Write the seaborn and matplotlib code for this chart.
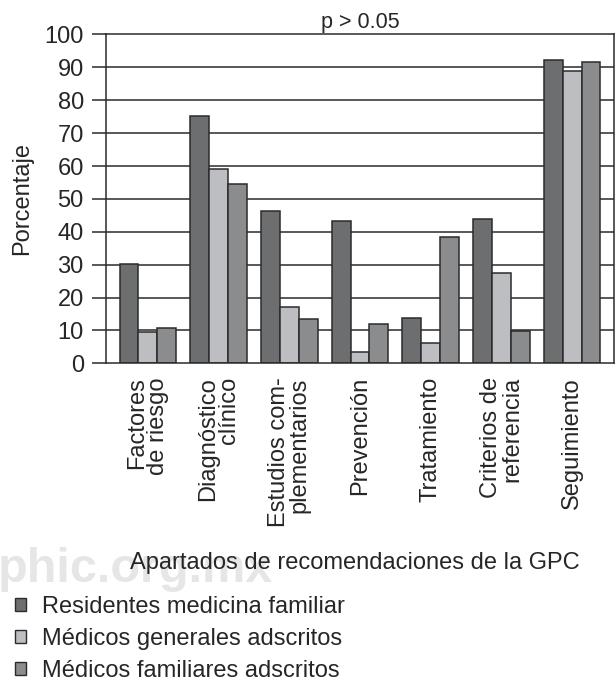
import numpy as np
import pandas as pd
import seaborn as sns
import matplotlib.pyplot as plt
from matplotlib.patches import Patch


# chart data
categorias = ["Factores\nde riesgo", "Diagnóstico\nclínico", "Estudios com-\nplementarios",
              "Prevención", "Tratamiento", "Criterios de\nreferencia", "Seguimiento"]
grupos = ["Residentes medicina familiar", "Médicos generales adscritos", "Médicos familiares adscritos"]
residentes = [30.3, 75.2, 46.3, 43.4, 13.7, 44.0, 92.2]
generales = [9.6, 59.2, 17.2, 3.4, 6.2, 27.4, 88.9]
familiares = [10.6, 54.4, 13.4, 11.9, 38.3, 9.9, 91.6]
colores = ["#6d6e70", "#bdbec2", "#8b8c8e"]


df = pd.DataFrame({
    "categoria": categorias * 3,
    "grupo": [g for g in grupos for _ in categorias],
    "valor": residentes + generales + familiares,
})

sns.set_style("white")
plt.rcParams['font.family'] = ['Liberation Sans', 'DejaVu Sans']

fig = plt.figure(figsize=(6.16, 6.83), dpi=100)
ax = fig.add_axes([0.1721, 0.468, 0.8247, 0.4815])

# watermark behind everything
fig.text(-0.004, 0.148, "phic.org.mx", fontsize=35, fontweight="bold",
         color="#e6e6e8", ha="left", va="baseline", zorder=0)

for y in range(10, 100, 10):
    ax.axhline(y, color="#2b2b2b", lw=1.1, zorder=0)

sns.barplot(data=df, x="categoria", y="valor", hue="grupo", palette=colores,
            width=0.8, edgecolor="#2b2b2b", linewidth=1.1, saturation=1,
            legend=False, ax=ax, zorder=2)

ax.set_xlim(-0.592, 6.592)
ax.set_ylim(0, 100)
ax.set_yticks(range(0, 101, 10))
ax.tick_params(axis="y", direction="out", length=10, width=1.1, color="#2b2b2b",
               labelsize=17, pad=6, left=True)
ax.tick_params(axis="x", length=0, labelsize=17, pad=10)
for s in ax.spines.values():
    s.set_color("#2b2b2b")
    s.set_linewidth(1.1)
ax.set_xticks(range(len(categorias)))
ax.set_xticklabels(categorias, rotation=90, ha="center", va="top",
                   multialignment="right", linespacing=0.95)
ax.set_xlabel("")
ax.set_ylabel("Porcentaje", fontsize=17, labelpad=8)
ax.set_title("p > 0.05", fontsize=15.5, pad=5)

fig.text(0.576, 0.175, "Apartados de recomendaciones de la GPC", fontsize=17,
         ha="center", va="center", zorder=3)

handles = [Patch(facecolor=c, edgecolor="#2b2b2b", linewidth=1.0) for c in colores]
fig.legend(handles, grupos, loc="upper left", bbox_to_anchor=(0.025, 0.1275),
           frameon=False, fontsize=17, handlelength=0.45, handleheight=0.45,
           handletextpad=0.67, labelspacing=0.43, borderaxespad=0.0, borderpad=0.0)

fig.savefig("out.png", dpi=100)
